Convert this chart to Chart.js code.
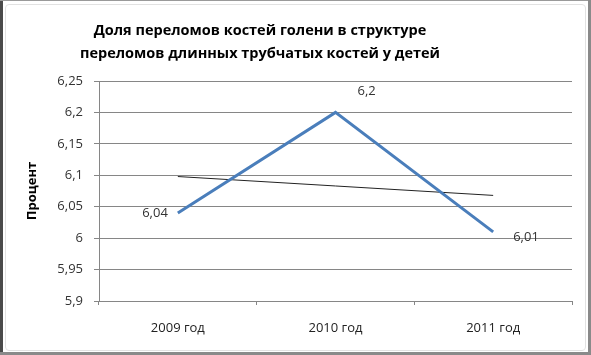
<!DOCTYPE html>
<html lang="ru">
<head>
<meta charset="utf-8">
<title>Доля переломов костей голени</title>
<script src="https://cdn.jsdelivr.net/npm/chart.js@4.4.1/dist/chart.umd.min.js"></script>
<style>
  html, body { margin: 0; padding: 0; background: #fff; }
  #wrap { position: relative; width: 591px; height: 355px; overflow: hidden; }
  #chart { position: absolute; left: 0; top: 0; }
  .edge { position: absolute; pointer-events: none; }
  #edgeLeft { left: 0; top: 0; width: 3px; height: 355px; background: #4a4a4a; }
  #edgeTop { left: 0; top: 0; width: 591px; height: 1px; background: #9a9a9a; }
  #edgeRight { right: 0; top: 0; width: 3px; height: 355px; background: #8a8a8a; }
  #edgeBottom { left: 0; bottom: 0; width: 591px; height: 3px; background: #8a8a8a; }
  #inner { left: 5px; top: 4px; width: 579px; height: 345px; border: 1px solid #e2e2e2; border-radius: 4px; }
</style>
</head>
<body>
<div id="wrap">
  <canvas id="chart" width="591" height="355"></canvas>
  <div class="edge" id="inner"></div>
  <div class="edge" id="edgeLeft"></div>
  <div class="edge" id="edgeTop"></div>
  <div class="edge" id="edgeRight"></div>
  <div class="edge" id="edgeBottom"></div>
</div>
<script>
const titleLines = [
  "Доля переломов костей голени в структуре",
  "переломов длинных трубчатых костей у детей",
];
const categories = ["2009 год", "2010 год", "2011 год"];
const shareValues = [6.04, 6.2, 6.01];
const trendValues = [6.098, 6.083, 6.068];
const yTicks = [5.9, 5.95, 6, 6.05, 6.1, 6.15, 6.2, 6.25];
const yAxisTitle = "Процент";

const FONT = "'Open Sans', 'DejaVu Sans', sans-serif";

function formatComma(v) {
  return String(v).replace(".", ",");
}

// title drawn by hand so it can sit off-centre like the original
const titlePlugin = {
  id: "titleLines",
  afterDraw(chart) {
    const ctx = chart.ctx;
    ctx.save();
    ctx.font = "bold 14.5px " + FONT;
    ctx.fillStyle = "#000";
    ctx.textAlign = "center";
    ctx.textBaseline = "alphabetic";
    ctx.fillText(titleLines[0], 260, 35);
    ctx.fillText(titleLines[1], 260, 58);
    ctx.restore();
  },
};

// value labels next to each point
const valueLabels = {
  id: "valueLabels",
  afterDatasetsDraw(chart) {
    const ctx = chart.ctx;
    const points = chart.getDatasetMeta(0).data;
    const place = [
      { dx: -10, dy: 0, align: "right" },
      { dx: 22, dy: -21, align: "left" },
      { dx: 20, dy: 5, align: "left" },
    ];
    ctx.save();
    ctx.font = "13px " + FONT;
    ctx.fillStyle = "#333";
    ctx.textBaseline = "middle";
    points.forEach((p, i) => {
      ctx.textAlign = place[i].align;
      ctx.fillText(formatComma(shareValues[i]), p.x + place[i].dx, p.y + place[i].dy);
    });
    ctx.restore();
  },
};

new Chart(document.getElementById("chart"), {
  type: "line",
  data: {
    labels: categories,
    datasets: [
      {
        label: "Доля",
        data: shareValues,
        borderColor: "#4a7ebb",
        borderWidth: 3,
        pointRadius: 0,
        tension: 0,
        order: 1,
      },
      {
        label: "Линейная",
        data: trendValues,
        borderColor: "#222",
        borderWidth: 1,
        pointRadius: 0,
        tension: 0,
        order: 2,
      },
    ],
  },
  options: {
    responsive: false,
    animation: false,
    layout: { padding: { top: 81, right: 19, bottom: 0, left: 0 } },
    plugins: {
      legend: { display: false },
      title: { display: false },
      tooltip: { enabled: false },
    },
    scales: {
      x: {
        offset: true,
        grid: {
          offset: true,
          drawOnChartArea: false,
          drawTicks: true,
          tickLength: 4,
          color: "#868686",
        },
        border: { color: "#868686" },
        ticks: {
          padding: 15,
          color: "#222",
          font: { family: FONT, size: 13 },
          maxRotation: 0,
        },
        afterFit(scale) {
          scale.height = 54;
        },
      },
      y: {
        min: 5.9,
        max: 6.25,
        afterBuildTicks(scale) {
          scale.ticks = yTicks.map((v) => ({ value: v }));
        },
        grid: { color: "#868686", tickLength: 5 },
        border: { color: "#868686" },
        ticks: {
          padding: 11,
          color: "#333",
          font: { family: FONT, size: 13 },
          callback: (v) => formatComma(v),
        },
        title: {
          display: true,
          text: yAxisTitle,
          color: "#000",
          font: { family: FONT, size: 13, weight: "bold" },
          padding: { top: 24, bottom: 0 },
        },
        afterFit(scale) {
          scale.width = 99;
        },
      },
    },
  },
  plugins: [titlePlugin, valueLabels],
});
</script>
</body>
</html>
